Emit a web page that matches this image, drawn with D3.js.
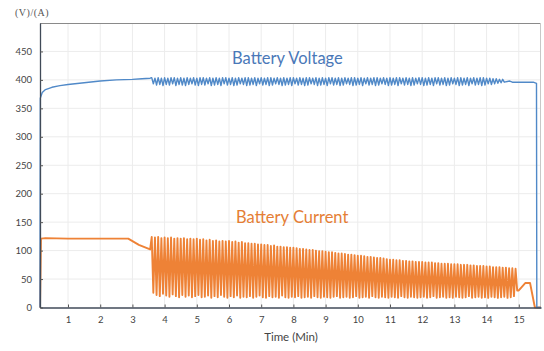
<!DOCTYPE html>
<html>
<head>
<meta charset="utf-8">
<script src="https://cdn.jsdelivr.net/npm/d3@7"></script>
<style>
  body { margin: 0; background: #fff; }
  svg { display: block; font-family: Lato, "Open Sans", sans-serif; }
</style>
</head>
<body>
<svg id="chart" width="544" height="351"></svg>
<script>
// axis ticks
const xTicks = [1, 2, 3, 4, 5, 6, 7, 8, 9, 10, 11, 12, 13, 14, 15];
const yTicks = [0, 50, 100, 150, 200, 250, 300, 350, 400, 450];

// battery voltage (V): smooth part before pulsing, pulse highs/lows every 0.1 min, tail
const voltStartT = [0.13, 0.14, 0.2, 0.3, 0.5, 0.75, 1, 1.5, 2, 2.5, 3, 3.3, 3.55];
const voltStartV = [0, 368, 378, 383, 387, 390, 392, 395, 398, 400, 401, 402, 403];
const voltPulseStart = 3.6;
const voltPulseHi = [
  404, 403, 404, 403,
  404, 403, 404, 404, 403, 404, 403, 404, 403, 404,
  403, 404, 404, 403, 404, 403, 404, 403, 404, 404,
  403, 404, 403, 404, 403, 404, 404, 403, 404, 403,
  404, 403, 404, 404, 403, 404, 403, 404, 403, 404,
  404, 403, 404, 403, 404, 404, 403, 404, 403, 404,
  403, 404, 404, 403, 404, 403, 404, 403, 404, 404,
  403, 404, 403, 404, 403, 404, 404, 403, 404, 403,
  404, 403, 404, 404, 403, 404, 403, 404, 403, 404,
  404, 403, 404, 403, 404, 404, 403, 404, 403, 404,
  403, 404, 404, 403, 404, 403, 404, 403, 404, 404,
  403, 403, 402, 402, 401, 401
];
const voltPulseLo = [
  393, 391, 392, 390,
  392, 391, 393, 390, 392, 391, 390, 392, 393, 391,
  390, 392, 391, 393, 390, 391, 392, 390, 393, 391,
  392, 390, 391, 393, 392, 390, 391, 392, 390, 393,
  391, 392, 390, 391, 393, 392, 390, 391, 392, 390,
  393, 391, 392, 390, 391, 393, 392, 390, 391, 392,
  390, 393, 391, 392, 390, 391, 393, 392, 390, 391,
  392, 390, 393, 391, 392, 390, 391, 393, 392, 390,
  391, 392, 390, 393, 391, 392, 390, 391, 393, 392,
  390, 391, 392, 390, 393, 391, 392, 390, 391, 393,
  392, 390, 391, 392, 390, 393, 391, 392, 390, 391,
  393, 392, 393, 394, 395, 396
];
const voltEndT = [14.72, 14.8, 15.45, 15.55, 15.56, 15.69];
const voltEndV = [398, 396, 396, 394, 0, 0];

// battery current (A)
const curStartT = [0.13, 0.16, 0.3, 1, 2, 2.87, 3.2, 3.55];
const curStartV = [0, 121, 122, 121, 121, 121, 110, 102];
const curPulseStart = 3.6;
const curPulseHi = [
  124, 123, 124, 122,
  123, 122, 123, 121, 122, 121, 122, 120, 121, 120,
  121, 119, 120, 118, 119, 117, 118, 116, 117, 116,
  117, 115, 116, 114, 115, 113, 113, 112, 112, 111,
  111, 110, 110, 108, 109, 107, 107, 106, 106, 105,
  105, 104, 103, 103, 102, 101, 101, 100, 99, 99,
  98, 97, 97, 96, 95, 95, 94, 93, 93, 92,
  91, 91, 90, 89, 89, 88, 87, 87, 86, 85,
  84, 84, 83, 83, 82, 82, 81, 81, 80, 80,
  80, 79, 79, 79, 78, 78, 77, 77, 77, 76,
  76, 76, 75, 75, 75, 74, 74, 73, 73, 73,
  72, 72, 71, 71, 71, 70, 70, 69, 69, 68
];
const curPulseLo = [
  26, 22, 20, 24,
  21, 19, 23, 20, 18, 22, 19, 21, 18, 20,
  22, 18, 19, 21, 17, 20, 18, 22, 19, 17,
  20, 18, 21, 17, 19, 18, 20, 17, 19, 21,
  18, 17, 20, 18, 19, 17, 21, 18, 17, 19,
  18, 20, 17, 18, 19, 17, 20, 18, 17, 19,
  18, 17, 19, 20, 17, 18, 19, 17, 18, 20,
  17, 18, 19, 17, 20, 18, 17, 19, 18, 17,
  19, 18, 17, 20, 18, 17, 19, 18, 17, 18,
  19, 17, 18, 20, 17, 18, 19, 17, 18, 17,
  19, 18, 17, 18, 20, 17, 18, 19, 17, 18,
  17, 19, 18, 17, 18, 19, 17, 18, 20, 30
];
const curEndT = [14.95, 15.0, 15.2, 15.35, 15.5, 15.69];
const curEndV = [30, 30, 43, 43, 0, 0];

const svg = d3.select('#chart');
const margin = { top: 23, right: 3, bottom: 43.5, left: 40 };
const width = 544 - margin.left - margin.right;
const height = 351 - margin.top - margin.bottom;

const xScale = d3.scaleLinear().domain([0.13, 15.69]).range([0, width]);
const yScale = d3.scaleLinear().domain([0, 500]).range([height, 0]);

const chart = svg.append('g')
  .attr('transform', `translate(${margin.left}, ${margin.top})`);

// grid
chart.append('g')
  .selectAll('line')
  .data(yTicks.slice(1))
  .join('line')
  .attr('x1', 0).attr('x2', width)
  .attr('y1', d => yScale(d)).attr('y2', d => yScale(d))
  .attr('stroke', '#ececec');
chart.append('g')
  .selectAll('line')
  .data(xTicks)
  .join('line')
  .attr('x1', d => xScale(d)).attr('x2', d => xScale(d))
  .attr('y1', 0).attr('y2', height)
  .attr('stroke', '#ececec');

// plot border (top / right)
chart.append('line').attr('x1', 0).attr('x2', width).attr('y1', 0.5).attr('y2', 0.5)
  .attr('stroke', '#8a8a8a');
chart.append('line').attr('x1', width - 0.5).attr('x2', width - 0.5).attr('y1', 0).attr('y2', height)
  .attr('stroke', '#c8c8c8');

// build series from start part, pulses, tail
function buildSeries(startT, startV, pulseStart, hi, lo, endT, endV) {
  const pts = startT.map((t, i) => [t, startV[i]]);
  hi.forEach((h, i) => {
    const t = pulseStart + i * 0.1;
    pts.push([t, h]);
    pts.push([t + 0.05, lo[i]]);
  });
  endT.forEach((t, i) => pts.push([t, endV[i]]));
  return pts;
}

const voltage = buildSeries(voltStartT, voltStartV, voltPulseStart, voltPulseHi, voltPulseLo, voltEndT, voltEndV);
const current = buildSeries(curStartT, curStartV, curPulseStart, curPulseHi, curPulseLo, curEndT, curEndV);

const line = d3.line()
  .x(d => xScale(d[0]))
  .y(d => yScale(d[1]));

chart.append('path')
  .datum(current)
  .attr('fill', 'none')
  .attr('stroke', '#ee8236')
  .attr('stroke-width', 1.9)
  .attr('stroke-linejoin', 'round')
  .attr('d', line);

chart.append('path')
  .datum(voltage)
  .attr('fill', 'none')
  .attr('stroke', '#5089c8')
  .attr('stroke-width', 1.4)
  .attr('stroke-linejoin', 'round')
  .attr('d', line);

// axes
const xAxis = d3.axisBottom(xScale).tickValues(xTicks).tickSizeInner(-3).tickSizeOuter(0).tickPadding(9);
const yAxis = d3.axisLeft(yScale).tickValues(yTicks).tickSizeInner(-3).tickSizeOuter(0).tickPadding(8);

chart.append('g')
  .attr('class', 'axis-x')
  .attr('transform', `translate(0, ${height})`)
  .call(xAxis);
chart.append('g')
  .attr('class', 'axis-y')
  .call(yAxis);

chart.selectAll('.axis-x .domain, .axis-y .domain').attr('stroke', '#404a58').attr('stroke-width', 1.3);
chart.selectAll('.tick line').attr('stroke', '#555');
chart.selectAll('.tick text')
  .attr('fill', '#444')
  .style('font-size', '9.5px')
  .style('font-family', 'Lato, sans-serif');

// labels
svg.append('text')
  .attr('x', 15).attr('y', 16)
  .attr('fill', '#555')
  .style('font-family', '"Liberation Serif", serif')
  .style('font-size', '10px')
  .style('letter-spacing', '0.5px')
  .text('(V)/(A)');

svg.append('text')
  .attr('x', margin.left + width / 2 + 0.5).attr('y', 341)
  .attr('text-anchor', 'middle')
  .attr('fill', '#444')
  .style('font-size', '11.5px')
  .text('Time (Min)');

svg.append('text')
  .attr('x', 232).attr('y', 64)
  .attr('fill', '#4a78b8')
  .style('font-size', '16.5px')
  .text('Battery Voltage');

svg.append('text')
  .attr('x', 236).attr('y', 223)
  .attr('fill', '#e57e35')
  .style('font-size', '16.5px')
  .text('Battery Current');
</script>
</body>
</html>
